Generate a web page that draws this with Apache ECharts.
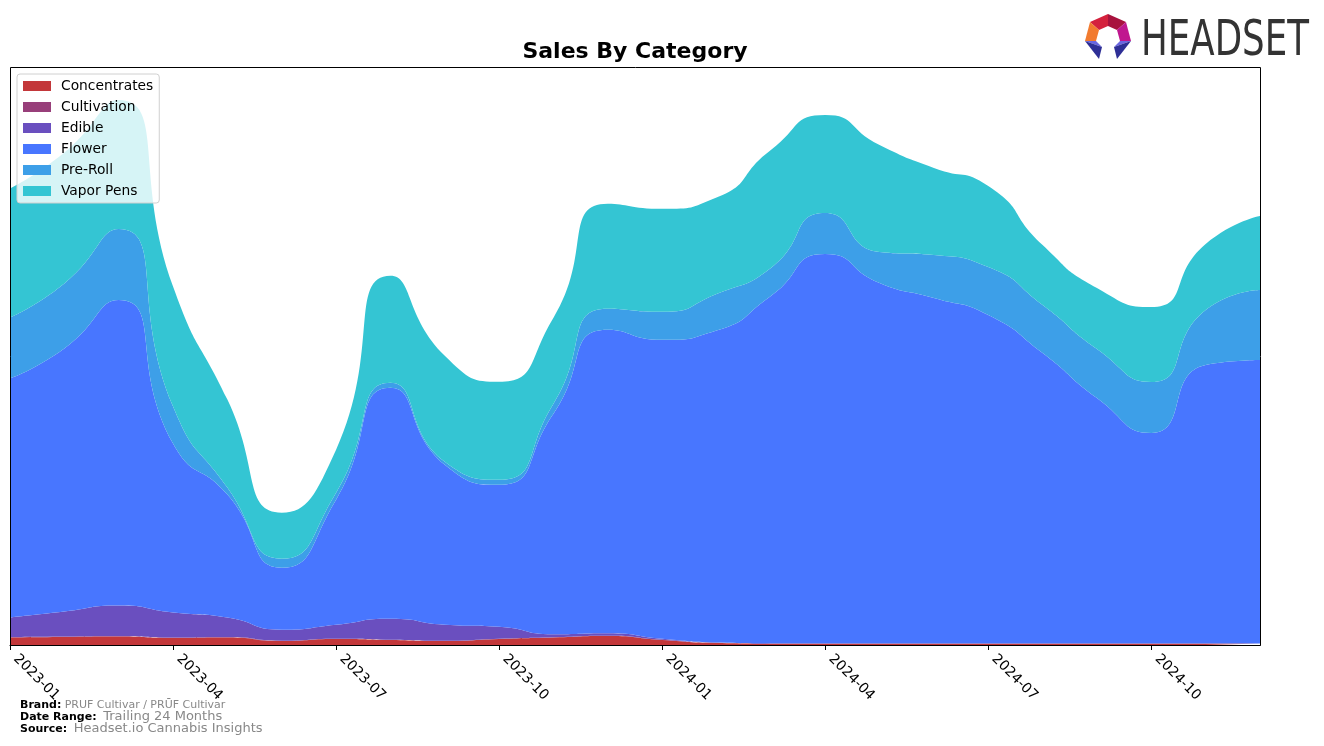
<!DOCTYPE html>
<html>
<head>
<meta charset="utf-8">
<script src="https://cdn.jsdelivr.net/npm/echarts@6/dist/echarts.min.js"></script>
<style>
html,body{margin:0;padding:0;background:#fff;}
#chart{width:1324px;height:746px;}
</style>
</head>
<body>
<div id="chart"></div>
<script>
// ---- data ----
var months = ['2023-01','2023-02','2023-03','2023-04','2023-05','2023-06','2023-07','2023-08','2023-09','2023-10','2023-11','2023-12',
              '2024-01','2024-02','2024-03','2024-04','2024-05','2024-06','2024-07','2024-08','2024-09','2024-10','2024-11','2024-12'];
var concentrates = [7.5, 8, 8.5, 7, 7.5, 4, 6, 5, 4, 6, 7.5, 9, 5, 2, 1.5, 1.5, 1.5, 1.5, 1.5, 1.5, 1.5, 1.5, 1.5, 1.5];
var cultivation  = [0.4, 0.4, 0.4, 0.4, 0.4, 0.3, 0.3, 0.3, 0.3, 0.3, 0.3, 0.3, 0.2, 0.2, 0.1, 0.1, 0.1, 0.1, 0.1, 0.1, 0.1, 0.1, 0.1, 0.1];
var edible       = [19.5, 25, 30.5, 25, 19.5, 11, 14, 21, 16, 12, 3, 2.5, 1, 0.3, 0, 0, 0, 0, 0, 0, 0, 0, 0, 0];
var flower       = [239, 263, 305.5, 169, 123, 62, 125, 231, 160, 142, 220.5, 303.5, 299, 312, 347.5, 389.5, 360.5, 345.5, 328.5, 290.5, 245.5, 210.5, 278.5, 283.5];
var preRoll      = [61, 65, 71, 37, 7, 9, 7, 5, 3, 5, 10, 21, 28, 36.5, 28, 41, 31, 43, 48, 48, 49, 51, 55, 70];
var vaporPens    = [129, 131, 129, 120, 88, 46, 43, 107, 106, 98, 86, 105, 103, 96.5, 118, 98, 107, 87, 81, 60, 61, 75, 66, 74];
var tickLabels   = ['2023-01','2023-04','2023-07','2023-10','2024-01','2024-04','2024-07','2024-10'];

var seriesNames  = ['Concentrates','Cultivation','Edible','Flower','Pre-Roll','Vapor Pens'];
var seriesValues = [concentrates, cultivation, edible, flower, preRoll, vaporPens];
var colors       = ['#c3373a','#983f7a','#6a4fbf','#4876ff','#3d9fe8','#34c5d3'];

function isTick(idx, name){ return tickLabels.indexOf(name) >= 0; }

var FONT = 'DejaVu Sans';
var chart = echarts.init(document.getElementById('chart'), null, {renderer:'canvas'});

var series = seriesNames.map(function(name, i){
  return {
    name: name, type: 'line', stack: 'total', smooth: 0.6,
    showSymbol: false, symbol: 'none',
    lineStyle: {width: 0, color: colors[i]},
    itemStyle: {color: colors[i]},
    areaStyle: {color: colors[i], opacity: 1},
    emphasis: {disabled: true},
    data: seriesValues[i],
    z: 2
  };
});

var option = {
  animation: false,
  backgroundColor: '#fff',
  grid: {left: 10, right: 64, top: 67, bottom: 101, containLabel: false},
  legend: {
    orient: 'vertical', left: 17, top: 74,
    data: seriesNames,
    icon: 'rect', itemWidth: 28, itemHeight: 10, itemGap: 7,
    padding: [5, 6, 5, 6],
    backgroundColor: 'rgba(255,255,255,0.8)', borderColor: '#d0d0d0', borderWidth: 1, borderRadius: 3,
    textStyle: {fontFamily: FONT, fontSize: 13.8, color: '#000', padding: [0, 0, 0, 5], lineHeight: 14},
    selectedMode: false,
    z: 10
  },
  xAxis: {
    type: 'category', data: months, boundaryGap: false,
    splitLine: {show: false},
    axisLine: {show: true, lineStyle: {color: '#000', width: 1}},
    axisTick: {show: true, length: 5, lineStyle: {color: '#000'}, interval: isTick},
    axisLabel: {
      interval: isTick,
      rotate: -45, margin: 6, padding: [0, 0, 0, 8],
      fontFamily: FONT, fontSize: 14, color: '#000'
    }
  },
  yAxis: {
    type: 'value', min: 0, max: 578,
    show: false, splitLine: {show: false}
  },
  series: series,
  graphic: [
    {type: 'rect', z: 100, silent: true,
     shape: {x: 10.5, y: 67.5, width: 1250, height: 578},
     style: {fill: 'none', stroke: '#000', lineWidth: 1}},
    {type: 'text', z: 100, x: 635, y: 52,
     style: {text: 'Sales By Category', fontFamily: FONT, fontSize: 22, fontWeight: 'bold', fill: '#000',
             textAlign: 'center', textVerticalAlign: 'middle'}},
    // footer
    {type: 'text', z: 100, x: 20, y: 705,
     style: {text: '{b|Brand:} {g|PRUF Cultivar / PRŪF Cultivar}', textVerticalAlign: 'middle',
       rich: {b: {fontFamily: FONT, fontSize: 11, fontWeight: 'bold', fill: '#000'},
              g: {fontFamily: FONT, fontSize: 11, fill: '#888'}}}},
    {type: 'text', z: 100, x: 20, y: 717,
     style: {text: '{b|Date Range:}  {g|Trailing 24 Months}', textVerticalAlign: 'middle',
       rich: {b: {fontFamily: FONT, fontSize: 11, fontWeight: 'bold', fill: '#000'},
              g: {fontFamily: FONT, fontSize: 13, fill: '#888'}}}},
    {type: 'text', z: 100, x: 20, y: 729,
     style: {text: '{b|Source:}  {g|Headset.io Cannabis Insights}', textVerticalAlign: 'middle',
       rich: {b: {fontFamily: FONT, fontSize: 11, fontWeight: 'bold', fill: '#000'},
              g: {fontFamily: FONT, fontSize: 13, fill: '#888'}}}},
    // logo
    {type: 'group', z: 100, children: [
      {type: 'polygon', shape: {points: [[1090,22],[1108,14],[1108,26],[1099,30]]}, style: {fill: '#d4213d'}},
      {type: 'polygon', shape: {points: [[1108,14],[1126,22],[1117,30],[1108,26]]}, style: {fill: '#a8123e'}},
      {type: 'polygon', shape: {points: [[1126,22],[1131,41],[1120,41],[1117,30]]}, style: {fill: '#c0178f'}},
      {type: 'polygon', shape: {points: [[1131,41],[1114,47],[1120,41]]}, style: {fill: '#6a66e0'}},
      {type: 'polygon', shape: {points: [[1131,41],[1117,59],[1114,47]]}, style: {fill: '#2e2f96'}},
      {type: 'polygon', shape: {points: [[1090,22],[1099,30],[1096,41],[1085,41]]}, style: {fill: '#f27b2f'}},
      {type: 'polygon', shape: {points: [[1085,41],[1096,41],[1102,47]]}, style: {fill: '#6a66e0'}},
      {type: 'polygon', shape: {points: [[1085,41],[1102,47],[1099,59]]}, style: {fill: '#2e2f96'}}
    ]},
    {type: 'text', z: 100, x: 1141, y: 42, scaleX: 0.727,
     style: {text: 'HEADSET', fontFamily: FONT, fontSize: 49, fill: '#333', textAlign: 'left', textVerticalAlign: 'middle'}}
  ]
};
chart.setOption(option);
</script>
</body>
</html>
